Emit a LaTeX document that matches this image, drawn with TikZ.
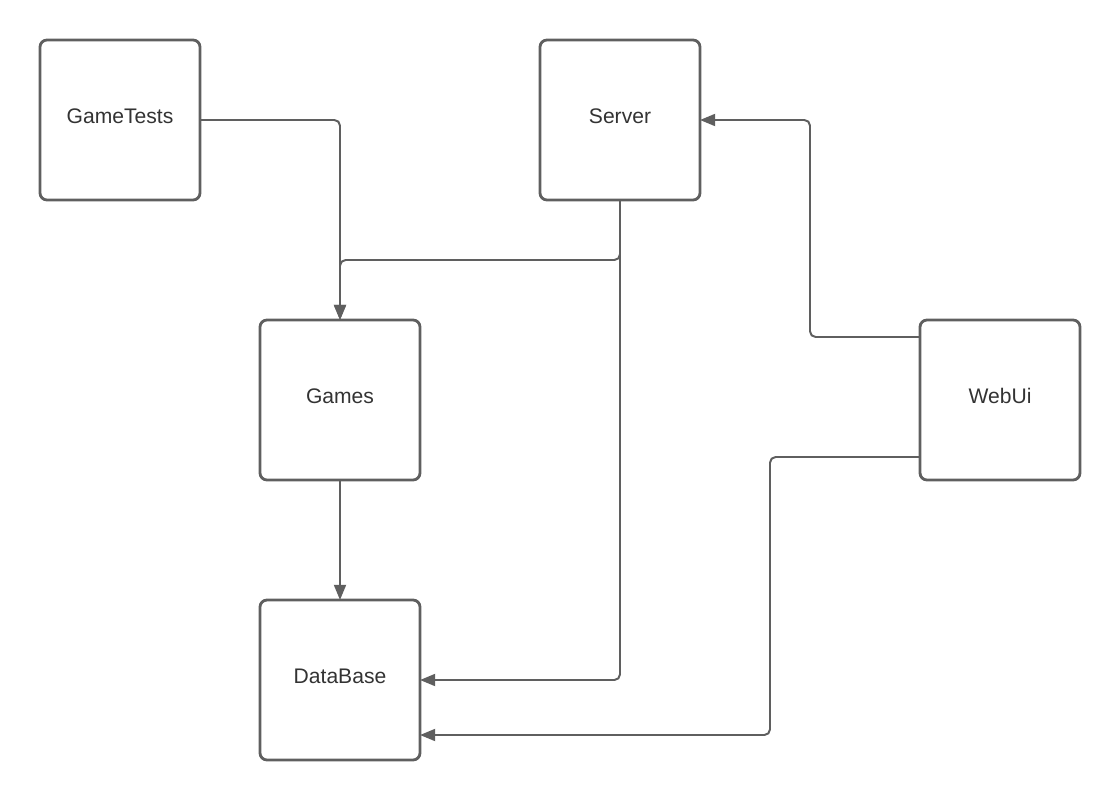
\documentclass[tikz,border=0pt]{standalone}
\usepackage{fontspec}
\setmainfont{Liberation Sans}
\usepackage{tikz}
\usetikzlibrary{arrows.meta, positioning}
\definecolor{edgegrey}{HTML}{5F5F5F}
\definecolor{textgrey}{HTML}{333333}
\def\lin{edgegrey}
\tikzstyle{module} = [rectangle, rounded corners=5pt, minimum width=4cm, minimum height=4cm, outer sep=0pt, text centered, text height=0.38cm, text depth=0.2cm, draw=\lin, line width=2pt, text=textgrey, font=\fontsize{15}{18}\selectfont]
\tikzstyle{aro} = [-{Triangle[length=0.38cm, width=0.3cm]}, draw=\lin, line width=1.4pt, rounded corners=4pt]

\begin{document}
\begin{tikzpicture}[auto, align=center, node distance = 3cm]

  \useasboundingbox (0,0) rectangle (28,-20);

  \node (tests) [module] at (3,-3) {GameTests};
  \node (server) [module, right=8.5cm of tests] {Server};
  \node (games) [module, below right=3cm and 1.5cm of tests] {Games};
  \node (db) [module, below=3cm of games] {DataBase};
  \node (webui) [module, right=12.5cm of games] {WebUi};

  \draw [aro] (tests.east) -| (games.north);
  \draw [aro] (server.south) -- ++(0,-1.5) -| (games.north);
  \draw [aro] (server.south) |- (db.east);
  \draw [aro] (games.south) -- (db.north);

  \draw [aro] ([yshift=1.575cm]webui.west) -- ++(-2.75,0) |- (server.east);
  \draw [aro] ([yshift=-1.425cm]webui.west) -- ++(-3.75,0) |- ([yshift=-1.375cm]db.east);

\end{tikzpicture}
\end{document}
